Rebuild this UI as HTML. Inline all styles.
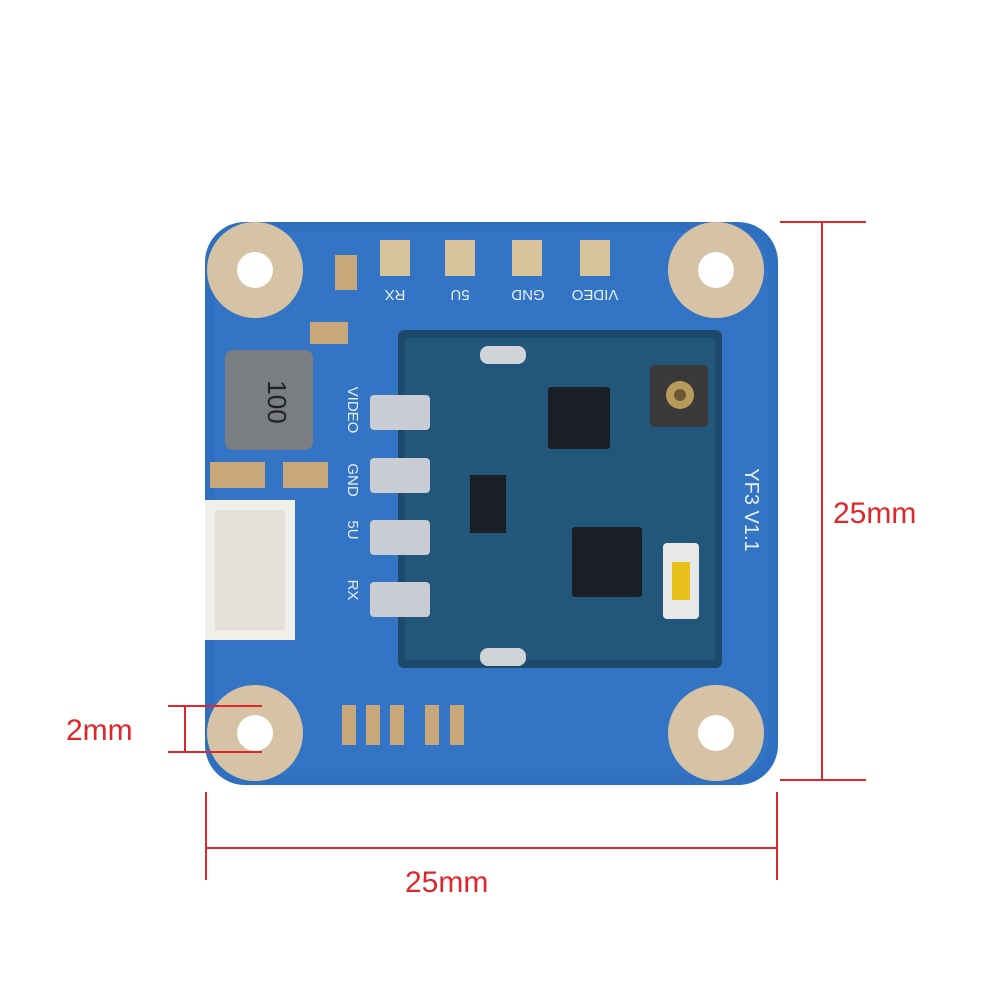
<!DOCTYPE html>
<html><head><meta charset="utf-8"><style>html,body{margin:0;padding:0;background:#fff;}svg{display:block}</style></head>
<body>
<svg width="1000" height="1000" viewBox="0 0 1000 1000" xmlns="http://www.w3.org/2000/svg" font-family="Liberation Sans, sans-serif">
<rect width="1000" height="1000" fill="#fff"/>
<!-- board -->
<rect x="205" y="222" width="573" height="563" rx="40" fill="#2f6fbf"/>
<rect x="215" y="232" width="553" height="543" rx="34" fill="#3375c4"/>
<!-- shield module -->
<rect x="398" y="330" width="324" height="338" rx="6" fill="#1d4a6a"/>
<rect x="405" y="338" width="310" height="322" rx="4" fill="#22567a"/>
<!-- chips -->
<rect x="548" y="387" width="62" height="62" rx="3" fill="#1a1f26"/>
<rect x="572" y="527" width="70" height="70" rx="3" fill="#1a1f26"/>
<rect x="470" y="475" width="36" height="58" fill="#1a1f26"/>
<rect x="650" y="365" width="58" height="62" rx="4" fill="#3a3a3a"/>
<circle cx="680" cy="395" r="14" fill="#b89a5a"/>
<circle cx="680" cy="395" r="6" fill="#6b5a35"/>
<rect x="663" y="543" width="36" height="76" rx="4" fill="#e8e8e8"/>
<rect x="672" y="562" width="18" height="38" fill="#e8c21a"/>
<!-- inductor -->
<rect x="225" y="350" width="88" height="100" rx="8" fill="#7a7d82"/>
<text x="268" y="402" font-size="26" fill="#222" text-anchor="middle" transform="rotate(90 268 402)">100</text>
<!-- connector -->
<rect x="205" y="500" width="90" height="140" fill="#f1efea"/>
<rect x="215" y="510" width="70" height="120" fill="#e4e1da"/>
<!-- top pads -->
<rect x="380" y="240" width="30" height="36" fill="#d9c39a"/>
<rect x="445" y="240" width="30" height="36" fill="#d9c39a"/>
<rect x="512" y="240" width="30" height="36" fill="#d9c39a"/>
<rect x="580" y="240" width="30" height="36" fill="#d9c39a"/>
<g fill="#e8eef6" font-size="15" text-anchor="middle">
<text x="395" y="300" transform="rotate(180 395 295)">RX</text>
<text x="460" y="300" transform="rotate(180 460 295)">5U</text>
<text x="528" y="300" transform="rotate(180 528 295)">GND</text>
<text x="595" y="300" transform="rotate(180 595 295)">VIDEO</text>
<text x="745" y="510" font-size="20" transform="rotate(90 745 510)">YF3 V1.1</text>
<text x="348" y="410" transform="rotate(90 348 410)">VIDEO</text>
<text x="348" y="480" transform="rotate(90 348 480)">GND</text>
<text x="348" y="530" transform="rotate(90 348 530)">5U</text>
<text x="348" y="590" transform="rotate(90 348 590)">RX</text>
</g>
<!-- side solder pads -->
<rect x="370" y="395" width="60" height="35" rx="4" fill="#c9ccd2"/>
<rect x="370" y="458" width="60" height="35" rx="4" fill="#c9ccd2"/>
<rect x="370" y="520" width="60" height="35" rx="4" fill="#c9ccd2"/>
<rect x="370" y="582" width="60" height="35" rx="4" fill="#c9ccd2"/>
<rect x="480" y="346" width="46" height="18" rx="8" fill="#d0d3d8"/>
<rect x="480" y="648" width="46" height="18" rx="8" fill="#d0d3d8"/>
<!-- caps -->
<rect x="335" y="255" width="22" height="35" fill="#c8a87a"/>
<rect x="310" y="322" width="38" height="22" fill="#c8a87a"/>
<rect x="210" y="462" width="55" height="26" fill="#c8a87a"/>
<rect x="283" y="462" width="45" height="26" fill="#c8a87a"/>
<rect x="342" y="705" width="14" height="40" fill="#c8a87a"/>
<rect x="366" y="705" width="14" height="40" fill="#c8a87a"/>
<rect x="390" y="705" width="14" height="40" fill="#c8a87a"/>
<rect x="425" y="705" width="14" height="40" fill="#c8a87a"/>
<rect x="450" y="705" width="14" height="40" fill="#c8a87a"/>
<!-- corner pads -->
<g fill="#d6c3a5">
<circle cx="255" cy="270" r="48"/><circle cx="716" cy="270" r="48"/>
<circle cx="255" cy="733" r="48"/><circle cx="716" cy="733" r="48"/>
</g>
<g fill="#fff">
<circle cx="255" cy="270" r="18"/><circle cx="716" cy="270" r="18"/>
<circle cx="255" cy="733" r="18"/><circle cx="716" cy="733" r="18"/>
</g>
<!-- dimensions -->
<g stroke="#e0262b" stroke-width="2" fill="none">
<line x1="780" y1="222" x2="866" y2="222"/>
<line x1="780" y1="780" x2="866" y2="780"/>
<line x1="822" y1="222" x2="822" y2="780"/>
<line x1="206" y1="792" x2="206" y2="880"/>
<line x1="777" y1="792" x2="777" y2="880"/>
<line x1="206" y1="848" x2="777" y2="848"/>
<line x1="168" y1="706" x2="262" y2="706"/>
<line x1="168" y1="752" x2="262" y2="752"/>
<line x1="185" y1="706" x2="185" y2="752"/>
</g>
<g fill="#e0262b" font-size="30">
<text x="833" y="523">25mm</text>
<text x="405" y="892">25mm</text>
<text x="66" y="740">2mm</text>
</g>
</svg>
</body></html>
